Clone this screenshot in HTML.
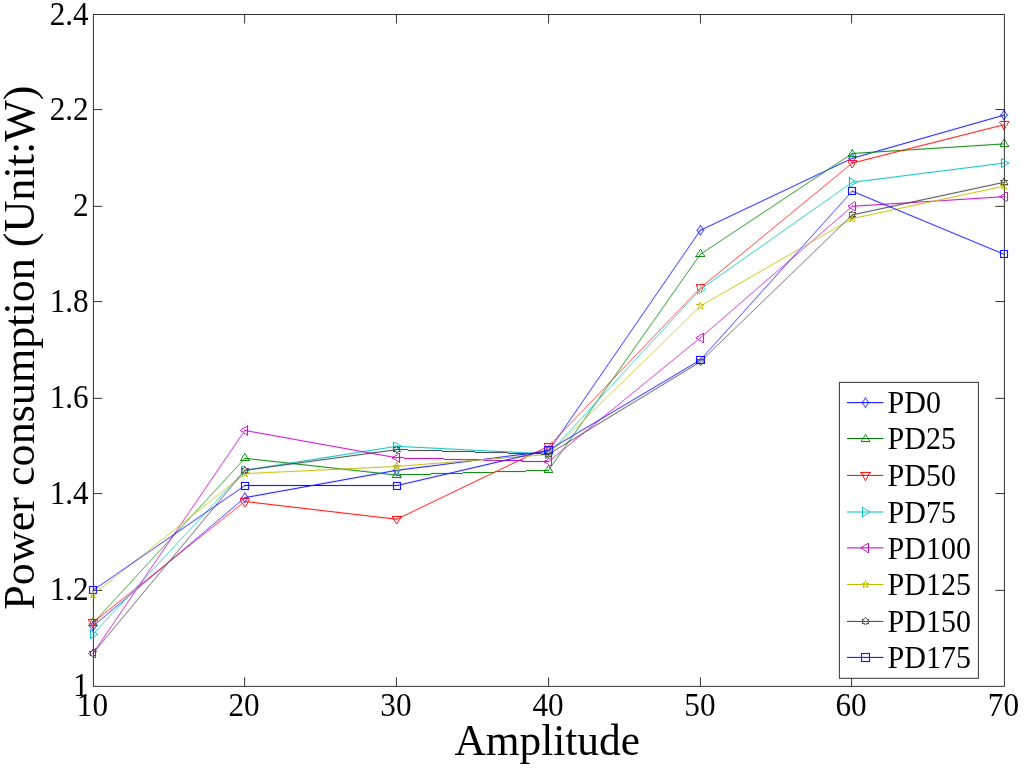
<!DOCTYPE html>
<html><head><meta charset="utf-8"><title>Power consumption vs Amplitude</title>
<style>
html,body{margin:0;padding:0;background:#fff;}
body{width:1024px;height:768px;overflow:hidden;}
svg{display:block;}
text{font-family:"Liberation Serif","Times New Roman",serif;fill:#000;}
.tk{font-size:31.2px;}
.lg{font-size:30px;}
.lb{font-size:43.4px;}
</style></head><body>
<svg width="1024" height="768" viewBox="0 0 1024 768">
<rect x="0" y="0" width="1024" height="768" fill="#fff"/>
<defs><filter id="b" x="0" y="0" width="1024" height="768" filterUnits="userSpaceOnUse"><feConvolveMatrix order="3" kernelMatrix="0.01 0.05 0.01 0.05 0.80 0.05 0.01 0.05 0.01" divisor="1" edgeMode="none" preserveAlpha="false"/></filter></defs>
<rect x="93.40" y="14.50" width="911.00" height="671.86" fill="none" stroke="#000" stroke-opacity="0.8" stroke-width="1"/>
<text class="tk" transform="translate(92.45,716.0) scale(1,1.06)" text-anchor="middle">10</text>
<line x1="244.64" y1="686.36" x2="244.64" y2="677.36" stroke="#000" stroke-opacity="0.8"/>
<line x1="244.64" y1="14.50" x2="244.64" y2="23.50" stroke="#000" stroke-opacity="0.8"/>
<text class="tk" transform="translate(244.09,716.0) scale(1,1.06)" text-anchor="middle">20</text>
<line x1="396.43" y1="686.36" x2="396.43" y2="677.36" stroke="#000" stroke-opacity="0.8"/>
<line x1="396.43" y1="14.50" x2="396.43" y2="23.50" stroke="#000" stroke-opacity="0.8"/>
<text class="tk" transform="translate(395.88,716.0) scale(1,1.06)" text-anchor="middle">30</text>
<line x1="548.58" y1="686.36" x2="548.58" y2="677.36" stroke="#000" stroke-opacity="0.8"/>
<line x1="548.58" y1="14.50" x2="548.58" y2="23.50" stroke="#000" stroke-opacity="0.8"/>
<text class="tk" transform="translate(548.03,716.0) scale(1,1.06)" text-anchor="middle">40</text>
<line x1="700.43" y1="686.36" x2="700.43" y2="677.36" stroke="#000" stroke-opacity="0.8"/>
<line x1="700.43" y1="14.50" x2="700.43" y2="23.50" stroke="#000" stroke-opacity="0.8"/>
<text class="tk" transform="translate(699.88,716.0) scale(1,1.06)" text-anchor="middle">50</text>
<line x1="851.60" y1="686.36" x2="851.60" y2="677.36" stroke="#000" stroke-opacity="0.8"/>
<line x1="851.60" y1="14.50" x2="851.60" y2="23.50" stroke="#000" stroke-opacity="0.8"/>
<text class="tk" transform="translate(851.05,716.0) scale(1,1.06)" text-anchor="middle">60</text>
<text class="tk" transform="translate(1003.45,716.0) scale(1,1.06)" text-anchor="middle">70</text>
<text class="tk" transform="translate(88.7,696.46) scale(1,1.06)" text-anchor="end">1</text>
<line x1="93.40" y1="590.36" x2="102.40" y2="590.36" stroke="#000" stroke-opacity="0.8"/>
<line x1="1004.40" y1="590.36" x2="995.40" y2="590.36" stroke="#000" stroke-opacity="0.8"/>
<text class="tk" transform="translate(88.7,600.46) scale(1,1.06)" text-anchor="end">1.2</text>
<line x1="93.40" y1="493.58" x2="102.40" y2="493.58" stroke="#000" stroke-opacity="0.8"/>
<line x1="1004.40" y1="493.58" x2="995.40" y2="493.58" stroke="#000" stroke-opacity="0.8"/>
<text class="tk" transform="translate(88.7,503.68) scale(1,1.06)" text-anchor="end">1.4</text>
<line x1="93.40" y1="398.36" x2="102.40" y2="398.36" stroke="#000" stroke-opacity="0.8"/>
<line x1="1004.40" y1="398.36" x2="995.40" y2="398.36" stroke="#000" stroke-opacity="0.8"/>
<text class="tk" transform="translate(88.7,408.46) scale(1,1.06)" text-anchor="end">1.6</text>
<line x1="93.40" y1="301.58" x2="102.40" y2="301.58" stroke="#000" stroke-opacity="0.8"/>
<line x1="1004.40" y1="301.58" x2="995.40" y2="301.58" stroke="#000" stroke-opacity="0.8"/>
<text class="tk" transform="translate(88.7,311.68) scale(1,1.06)" text-anchor="end">1.8</text>
<line x1="93.40" y1="206.36" x2="102.40" y2="206.36" stroke="#000" stroke-opacity="0.8"/>
<line x1="1004.40" y1="206.36" x2="995.40" y2="206.36" stroke="#000" stroke-opacity="0.8"/>
<text class="tk" transform="translate(88.7,216.46) scale(1,1.06)" text-anchor="end">2</text>
<line x1="93.40" y1="109.58" x2="102.40" y2="109.58" stroke="#000" stroke-opacity="0.8"/>
<line x1="1004.40" y1="109.58" x2="995.40" y2="109.58" stroke="#000" stroke-opacity="0.8"/>
<text class="tk" transform="translate(88.7,119.68) scale(1,1.06)" text-anchor="end">2.2</text>
<text class="tk" transform="translate(88.7,24.60) scale(1,1.06)" text-anchor="end">2.4</text>
<text class="lb" x="547.2" y="755" text-anchor="middle">Amplitude</text>
<text class="lb" style="font-size:44.1px" transform="translate(34.0,347.6) rotate(-90)" text-anchor="middle">Power consumption (Unit:W)</text>
<g filter="url(#b)">
<line x1="93.00" y1="626.30" x2="244.85" y2="497.66" stroke="#0000ff" stroke-width="0.763" stroke-linecap="square" shape-rendering="crispEdges"/>
<line x1="244.85" y1="497.66" x2="396.70" y2="470.30" stroke="#0000ff" stroke-width="0.984" stroke-linecap="square" shape-rendering="crispEdges"/>
<line x1="396.70" y1="470.30" x2="548.55" y2="451.10" stroke="#0000ff" stroke-width="0.992" stroke-linecap="square" shape-rendering="crispEdges"/>
<line x1="548.55" y1="451.10" x2="700.40" y2="230.30" stroke="#0000ff" stroke-width="0.824" stroke-linecap="square" shape-rendering="crispEdges"/>
<line x1="700.40" y1="230.30" x2="852.25" y2="158.30" stroke="#0000ff" stroke-width="0.904" stroke-linecap="square" shape-rendering="crispEdges"/>
<line x1="852.25" y1="158.30" x2="1004.10" y2="115.10" stroke="#0000ff" stroke-width="0.962" stroke-linecap="square" shape-rendering="crispEdges"/>
<line x1="93.00" y1="621.60" x2="96.20" y2="626.30" stroke="#0000ff" stroke-width="0.827" stroke-linecap="square" shape-rendering="crispEdges"/><line x1="96.20" y1="626.30" x2="93.00" y2="631.00" stroke="#0000ff" stroke-width="0.827" stroke-linecap="square" shape-rendering="crispEdges"/><line x1="93.00" y1="631.00" x2="89.80" y2="626.30" stroke="#0000ff" stroke-width="0.827" stroke-linecap="square" shape-rendering="crispEdges"/><line x1="89.80" y1="626.30" x2="93.00" y2="621.60" stroke="#0000ff" stroke-width="0.827" stroke-linecap="square" shape-rendering="crispEdges"/>
<line x1="244.85" y1="492.96" x2="248.05" y2="497.66" stroke="#0000ff" stroke-width="0.827" stroke-linecap="square" shape-rendering="crispEdges"/><line x1="248.05" y1="497.66" x2="244.85" y2="502.36" stroke="#0000ff" stroke-width="0.827" stroke-linecap="square" shape-rendering="crispEdges"/><line x1="244.85" y1="502.36" x2="241.65" y2="497.66" stroke="#0000ff" stroke-width="0.827" stroke-linecap="square" shape-rendering="crispEdges"/><line x1="241.65" y1="497.66" x2="244.85" y2="492.96" stroke="#0000ff" stroke-width="0.827" stroke-linecap="square" shape-rendering="crispEdges"/>
<line x1="396.70" y1="465.60" x2="399.90" y2="470.30" stroke="#0000ff" stroke-width="0.827" stroke-linecap="square" shape-rendering="crispEdges"/><line x1="399.90" y1="470.30" x2="396.70" y2="475.00" stroke="#0000ff" stroke-width="0.827" stroke-linecap="square" shape-rendering="crispEdges"/><line x1="396.70" y1="475.00" x2="393.50" y2="470.30" stroke="#0000ff" stroke-width="0.827" stroke-linecap="square" shape-rendering="crispEdges"/><line x1="393.50" y1="470.30" x2="396.70" y2="465.60" stroke="#0000ff" stroke-width="0.827" stroke-linecap="square" shape-rendering="crispEdges"/>
<line x1="548.55" y1="446.40" x2="551.75" y2="451.10" stroke="#0000ff" stroke-width="0.827" stroke-linecap="square" shape-rendering="crispEdges"/><line x1="551.75" y1="451.10" x2="548.55" y2="455.80" stroke="#0000ff" stroke-width="0.827" stroke-linecap="square" shape-rendering="crispEdges"/><line x1="548.55" y1="455.80" x2="545.35" y2="451.10" stroke="#0000ff" stroke-width="0.827" stroke-linecap="square" shape-rendering="crispEdges"/><line x1="545.35" y1="451.10" x2="548.55" y2="446.40" stroke="#0000ff" stroke-width="0.827" stroke-linecap="square" shape-rendering="crispEdges"/>
<line x1="700.40" y1="225.60" x2="703.60" y2="230.30" stroke="#0000ff" stroke-width="0.827" stroke-linecap="square" shape-rendering="crispEdges"/><line x1="703.60" y1="230.30" x2="700.40" y2="235.00" stroke="#0000ff" stroke-width="0.827" stroke-linecap="square" shape-rendering="crispEdges"/><line x1="700.40" y1="235.00" x2="697.20" y2="230.30" stroke="#0000ff" stroke-width="0.827" stroke-linecap="square" shape-rendering="crispEdges"/><line x1="697.20" y1="230.30" x2="700.40" y2="225.60" stroke="#0000ff" stroke-width="0.827" stroke-linecap="square" shape-rendering="crispEdges"/>
<line x1="852.25" y1="153.60" x2="855.45" y2="158.30" stroke="#0000ff" stroke-width="0.827" stroke-linecap="square" shape-rendering="crispEdges"/><line x1="855.45" y1="158.30" x2="852.25" y2="163.00" stroke="#0000ff" stroke-width="0.827" stroke-linecap="square" shape-rendering="crispEdges"/><line x1="852.25" y1="163.00" x2="849.05" y2="158.30" stroke="#0000ff" stroke-width="0.827" stroke-linecap="square" shape-rendering="crispEdges"/><line x1="849.05" y1="158.30" x2="852.25" y2="153.60" stroke="#0000ff" stroke-width="0.827" stroke-linecap="square" shape-rendering="crispEdges"/>
<line x1="1004.10" y1="110.40" x2="1007.30" y2="115.10" stroke="#0000ff" stroke-width="0.827" stroke-linecap="square" shape-rendering="crispEdges"/><line x1="1007.30" y1="115.10" x2="1004.10" y2="119.80" stroke="#0000ff" stroke-width="0.827" stroke-linecap="square" shape-rendering="crispEdges"/><line x1="1004.10" y1="119.80" x2="1000.90" y2="115.10" stroke="#0000ff" stroke-width="0.827" stroke-linecap="square" shape-rendering="crispEdges"/><line x1="1000.90" y1="115.10" x2="1004.10" y2="110.40" stroke="#0000ff" stroke-width="0.827" stroke-linecap="square" shape-rendering="crispEdges"/>
<line x1="93.00" y1="623.18" x2="244.85" y2="458.30" stroke="#008000" stroke-width="0.736" stroke-linecap="square" shape-rendering="crispEdges"/>
<line x1="244.85" y1="458.30" x2="396.70" y2="475.10" stroke="#008000" stroke-width="0.994" stroke-linecap="square" shape-rendering="crispEdges"/>
<line x1="396.70" y1="475.10" x2="548.55" y2="470.30" stroke="#008000" stroke-width="1.000" stroke-linecap="square" shape-rendering="crispEdges"/>
<line x1="548.55" y1="470.30" x2="700.40" y2="254.30" stroke="#008000" stroke-width="0.818" stroke-linecap="square" shape-rendering="crispEdges"/>
<line x1="700.40" y1="254.30" x2="852.25" y2="153.50" stroke="#008000" stroke-width="0.833" stroke-linecap="square" shape-rendering="crispEdges"/>
<line x1="852.25" y1="153.50" x2="1004.10" y2="143.90" stroke="#008000" stroke-width="0.998" stroke-linecap="square" shape-rendering="crispEdges"/>
<line x1="93.00" y1="618.18" x2="97.60" y2="625.68" stroke="#008000" stroke-width="0.852" stroke-linecap="butt" shape-rendering="crispEdges"/><line x1="97.60" y1="625.68" x2="88.40" y2="625.68" stroke="#008000" stroke-width="1.000" stroke-linecap="butt" shape-rendering="crispEdges"/><line x1="88.40" y1="625.68" x2="93.00" y2="618.18" stroke="#008000" stroke-width="0.852" stroke-linecap="butt" shape-rendering="crispEdges"/>
<line x1="244.85" y1="453.30" x2="249.45" y2="460.80" stroke="#008000" stroke-width="0.852" stroke-linecap="butt" shape-rendering="crispEdges"/><line x1="249.45" y1="460.80" x2="240.25" y2="460.80" stroke="#008000" stroke-width="1.000" stroke-linecap="butt" shape-rendering="crispEdges"/><line x1="240.25" y1="460.80" x2="244.85" y2="453.30" stroke="#008000" stroke-width="0.852" stroke-linecap="butt" shape-rendering="crispEdges"/>
<line x1="396.70" y1="470.10" x2="401.30" y2="477.60" stroke="#008000" stroke-width="0.852" stroke-linecap="butt" shape-rendering="crispEdges"/><line x1="401.30" y1="477.60" x2="392.10" y2="477.60" stroke="#008000" stroke-width="1.000" stroke-linecap="butt" shape-rendering="crispEdges"/><line x1="392.10" y1="477.60" x2="396.70" y2="470.10" stroke="#008000" stroke-width="0.852" stroke-linecap="butt" shape-rendering="crispEdges"/>
<line x1="548.55" y1="465.30" x2="553.15" y2="472.80" stroke="#008000" stroke-width="0.852" stroke-linecap="butt" shape-rendering="crispEdges"/><line x1="553.15" y1="472.80" x2="543.95" y2="472.80" stroke="#008000" stroke-width="1.000" stroke-linecap="butt" shape-rendering="crispEdges"/><line x1="543.95" y1="472.80" x2="548.55" y2="465.30" stroke="#008000" stroke-width="0.852" stroke-linecap="butt" shape-rendering="crispEdges"/>
<line x1="700.40" y1="249.30" x2="705.00" y2="256.80" stroke="#008000" stroke-width="0.852" stroke-linecap="butt" shape-rendering="crispEdges"/><line x1="705.00" y1="256.80" x2="695.80" y2="256.80" stroke="#008000" stroke-width="1.000" stroke-linecap="butt" shape-rendering="crispEdges"/><line x1="695.80" y1="256.80" x2="700.40" y2="249.30" stroke="#008000" stroke-width="0.852" stroke-linecap="butt" shape-rendering="crispEdges"/>
<line x1="852.25" y1="148.50" x2="856.85" y2="156.00" stroke="#008000" stroke-width="0.852" stroke-linecap="butt" shape-rendering="crispEdges"/><line x1="856.85" y1="156.00" x2="847.65" y2="156.00" stroke="#008000" stroke-width="1.000" stroke-linecap="butt" shape-rendering="crispEdges"/><line x1="847.65" y1="156.00" x2="852.25" y2="148.50" stroke="#008000" stroke-width="0.852" stroke-linecap="butt" shape-rendering="crispEdges"/>
<line x1="1004.10" y1="138.90" x2="1008.70" y2="146.40" stroke="#008000" stroke-width="0.852" stroke-linecap="butt" shape-rendering="crispEdges"/><line x1="1008.70" y1="146.40" x2="999.50" y2="146.40" stroke="#008000" stroke-width="1.000" stroke-linecap="butt" shape-rendering="crispEdges"/><line x1="999.50" y1="146.40" x2="1004.10" y2="138.90" stroke="#008000" stroke-width="0.852" stroke-linecap="butt" shape-rendering="crispEdges"/>
<line x1="93.00" y1="622.46" x2="244.85" y2="501.50" stroke="#ff0000" stroke-width="0.782" stroke-linecap="square" shape-rendering="crispEdges"/>
<line x1="244.85" y1="501.50" x2="396.70" y2="519.26" stroke="#ff0000" stroke-width="0.993" stroke-linecap="square" shape-rendering="crispEdges"/>
<line x1="396.70" y1="519.26" x2="548.55" y2="446.30" stroke="#ff0000" stroke-width="0.901" stroke-linecap="square" shape-rendering="crispEdges"/>
<line x1="548.55" y1="446.30" x2="700.40" y2="287.90" stroke="#ff0000" stroke-width="0.722" stroke-linecap="square" shape-rendering="crispEdges"/>
<line x1="700.40" y1="287.90" x2="852.25" y2="163.10" stroke="#ff0000" stroke-width="0.773" stroke-linecap="square" shape-rendering="crispEdges"/>
<line x1="852.25" y1="163.10" x2="1004.10" y2="124.70" stroke="#ff0000" stroke-width="0.969" stroke-linecap="square" shape-rendering="crispEdges"/>
<line x1="93.00" y1="627.66" x2="97.60" y2="619.46" stroke="#ff0000" stroke-width="0.872" stroke-linecap="butt" shape-rendering="crispEdges"/><line x1="97.60" y1="619.46" x2="88.40" y2="619.46" stroke="#ff0000" stroke-width="1.000" stroke-linecap="butt" shape-rendering="crispEdges"/><line x1="88.40" y1="619.46" x2="93.00" y2="627.66" stroke="#ff0000" stroke-width="0.872" stroke-linecap="butt" shape-rendering="crispEdges"/>
<line x1="244.85" y1="506.70" x2="249.45" y2="498.50" stroke="#ff0000" stroke-width="0.872" stroke-linecap="butt" shape-rendering="crispEdges"/><line x1="249.45" y1="498.50" x2="240.25" y2="498.50" stroke="#ff0000" stroke-width="1.000" stroke-linecap="butt" shape-rendering="crispEdges"/><line x1="240.25" y1="498.50" x2="244.85" y2="506.70" stroke="#ff0000" stroke-width="0.872" stroke-linecap="butt" shape-rendering="crispEdges"/>
<line x1="396.70" y1="524.46" x2="401.30" y2="516.26" stroke="#ff0000" stroke-width="0.872" stroke-linecap="butt" shape-rendering="crispEdges"/><line x1="401.30" y1="516.26" x2="392.10" y2="516.26" stroke="#ff0000" stroke-width="1.000" stroke-linecap="butt" shape-rendering="crispEdges"/><line x1="392.10" y1="516.26" x2="396.70" y2="524.46" stroke="#ff0000" stroke-width="0.872" stroke-linecap="butt" shape-rendering="crispEdges"/>
<line x1="548.55" y1="451.50" x2="553.15" y2="443.30" stroke="#ff0000" stroke-width="0.872" stroke-linecap="butt" shape-rendering="crispEdges"/><line x1="553.15" y1="443.30" x2="543.95" y2="443.30" stroke="#ff0000" stroke-width="1.000" stroke-linecap="butt" shape-rendering="crispEdges"/><line x1="543.95" y1="443.30" x2="548.55" y2="451.50" stroke="#ff0000" stroke-width="0.872" stroke-linecap="butt" shape-rendering="crispEdges"/>
<line x1="700.40" y1="293.10" x2="705.00" y2="284.90" stroke="#ff0000" stroke-width="0.872" stroke-linecap="butt" shape-rendering="crispEdges"/><line x1="705.00" y1="284.90" x2="695.80" y2="284.90" stroke="#ff0000" stroke-width="1.000" stroke-linecap="butt" shape-rendering="crispEdges"/><line x1="695.80" y1="284.90" x2="700.40" y2="293.10" stroke="#ff0000" stroke-width="0.872" stroke-linecap="butt" shape-rendering="crispEdges"/>
<line x1="852.25" y1="168.30" x2="856.85" y2="160.10" stroke="#ff0000" stroke-width="0.872" stroke-linecap="butt" shape-rendering="crispEdges"/><line x1="856.85" y1="160.10" x2="847.65" y2="160.10" stroke="#ff0000" stroke-width="1.000" stroke-linecap="butt" shape-rendering="crispEdges"/><line x1="847.65" y1="160.10" x2="852.25" y2="168.30" stroke="#ff0000" stroke-width="0.872" stroke-linecap="butt" shape-rendering="crispEdges"/>
<line x1="1004.10" y1="129.90" x2="1008.70" y2="121.70" stroke="#ff0000" stroke-width="0.872" stroke-linecap="butt" shape-rendering="crispEdges"/><line x1="1008.70" y1="121.70" x2="999.50" y2="121.70" stroke="#ff0000" stroke-width="1.000" stroke-linecap="butt" shape-rendering="crispEdges"/><line x1="999.50" y1="121.70" x2="1004.10" y2="129.90" stroke="#ff0000" stroke-width="0.872" stroke-linecap="butt" shape-rendering="crispEdges"/>
<line x1="93.00" y1="634.22" x2="244.85" y2="470.30" stroke="#00bfbf" stroke-width="0.734" stroke-linecap="square" shape-rendering="crispEdges"/>
<line x1="244.85" y1="470.30" x2="396.70" y2="446.30" stroke="#00bfbf" stroke-width="0.988" stroke-linecap="square" shape-rendering="crispEdges"/>
<line x1="396.70" y1="446.30" x2="548.55" y2="453.98" stroke="#00bfbf" stroke-width="0.999" stroke-linecap="square" shape-rendering="crispEdges"/>
<line x1="548.55" y1="453.98" x2="700.40" y2="289.34" stroke="#00bfbf" stroke-width="0.735" stroke-linecap="square" shape-rendering="crispEdges"/>
<line x1="700.40" y1="289.34" x2="852.25" y2="182.30" stroke="#00bfbf" stroke-width="0.817" stroke-linecap="square" shape-rendering="crispEdges"/>
<line x1="852.25" y1="182.30" x2="1004.10" y2="163.10" stroke="#00bfbf" stroke-width="0.992" stroke-linecap="square" shape-rendering="crispEdges"/>
<line x1="97.70" y1="634.22" x2="90.10" y2="629.62" stroke="#00bfbf" stroke-width="0.856" stroke-linecap="butt" shape-rendering="crispEdges"/><line x1="90.10" y1="629.62" x2="90.10" y2="638.82" stroke="#00bfbf" stroke-width="1.000" stroke-linecap="butt" shape-rendering="crispEdges"/><line x1="90.10" y1="638.82" x2="97.70" y2="634.22" stroke="#00bfbf" stroke-width="0.856" stroke-linecap="butt" shape-rendering="crispEdges"/>
<line x1="249.55" y1="470.30" x2="241.95" y2="465.70" stroke="#00bfbf" stroke-width="0.856" stroke-linecap="butt" shape-rendering="crispEdges"/><line x1="241.95" y1="465.70" x2="241.95" y2="474.90" stroke="#00bfbf" stroke-width="1.000" stroke-linecap="butt" shape-rendering="crispEdges"/><line x1="241.95" y1="474.90" x2="249.55" y2="470.30" stroke="#00bfbf" stroke-width="0.856" stroke-linecap="butt" shape-rendering="crispEdges"/>
<line x1="401.40" y1="446.30" x2="393.80" y2="441.70" stroke="#00bfbf" stroke-width="0.856" stroke-linecap="butt" shape-rendering="crispEdges"/><line x1="393.80" y1="441.70" x2="393.80" y2="450.90" stroke="#00bfbf" stroke-width="1.000" stroke-linecap="butt" shape-rendering="crispEdges"/><line x1="393.80" y1="450.90" x2="401.40" y2="446.30" stroke="#00bfbf" stroke-width="0.856" stroke-linecap="butt" shape-rendering="crispEdges"/>
<line x1="553.25" y1="453.98" x2="545.65" y2="449.38" stroke="#00bfbf" stroke-width="0.856" stroke-linecap="butt" shape-rendering="crispEdges"/><line x1="545.65" y1="449.38" x2="545.65" y2="458.58" stroke="#00bfbf" stroke-width="1.000" stroke-linecap="butt" shape-rendering="crispEdges"/><line x1="545.65" y1="458.58" x2="553.25" y2="453.98" stroke="#00bfbf" stroke-width="0.856" stroke-linecap="butt" shape-rendering="crispEdges"/>
<line x1="705.10" y1="289.34" x2="697.50" y2="284.74" stroke="#00bfbf" stroke-width="0.856" stroke-linecap="butt" shape-rendering="crispEdges"/><line x1="697.50" y1="284.74" x2="697.50" y2="293.94" stroke="#00bfbf" stroke-width="1.000" stroke-linecap="butt" shape-rendering="crispEdges"/><line x1="697.50" y1="293.94" x2="705.10" y2="289.34" stroke="#00bfbf" stroke-width="0.856" stroke-linecap="butt" shape-rendering="crispEdges"/>
<line x1="856.95" y1="182.30" x2="849.35" y2="177.70" stroke="#00bfbf" stroke-width="0.856" stroke-linecap="butt" shape-rendering="crispEdges"/><line x1="849.35" y1="177.70" x2="849.35" y2="186.90" stroke="#00bfbf" stroke-width="1.000" stroke-linecap="butt" shape-rendering="crispEdges"/><line x1="849.35" y1="186.90" x2="856.95" y2="182.30" stroke="#00bfbf" stroke-width="0.856" stroke-linecap="butt" shape-rendering="crispEdges"/>
<line x1="1008.80" y1="163.10" x2="1001.20" y2="158.50" stroke="#00bfbf" stroke-width="0.856" stroke-linecap="butt" shape-rendering="crispEdges"/><line x1="1001.20" y1="158.50" x2="1001.20" y2="167.70" stroke="#00bfbf" stroke-width="1.000" stroke-linecap="butt" shape-rendering="crispEdges"/><line x1="1001.20" y1="167.70" x2="1008.80" y2="163.10" stroke="#00bfbf" stroke-width="0.856" stroke-linecap="butt" shape-rendering="crispEdges"/>
<line x1="93.00" y1="653.42" x2="244.85" y2="430.46" stroke="#bf00bf" stroke-width="0.827" stroke-linecap="square" shape-rendering="crispEdges"/>
<line x1="244.85" y1="430.46" x2="396.70" y2="457.82" stroke="#bf00bf" stroke-width="0.984" stroke-linecap="square" shape-rendering="crispEdges"/>
<line x1="396.70" y1="457.82" x2="548.55" y2="461.66" stroke="#bf00bf" stroke-width="1.000" stroke-linecap="square" shape-rendering="crispEdges"/>
<line x1="548.55" y1="461.66" x2="700.40" y2="337.82" stroke="#bf00bf" stroke-width="0.775" stroke-linecap="square" shape-rendering="crispEdges"/>
<line x1="700.40" y1="337.82" x2="852.25" y2="206.30" stroke="#bf00bf" stroke-width="0.756" stroke-linecap="square" shape-rendering="crispEdges"/>
<line x1="852.25" y1="206.30" x2="1004.10" y2="196.70" stroke="#bf00bf" stroke-width="0.998" stroke-linecap="square" shape-rendering="crispEdges"/>
<line x1="88.30" y1="653.42" x2="95.90" y2="648.72" stroke="#bf00bf" stroke-width="0.851" stroke-linecap="butt" shape-rendering="crispEdges"/><line x1="95.90" y1="648.72" x2="95.90" y2="658.12" stroke="#bf00bf" stroke-width="1.000" stroke-linecap="butt" shape-rendering="crispEdges"/><line x1="95.90" y1="658.12" x2="88.30" y2="653.42" stroke="#bf00bf" stroke-width="0.851" stroke-linecap="butt" shape-rendering="crispEdges"/>
<line x1="240.15" y1="430.46" x2="247.75" y2="425.76" stroke="#bf00bf" stroke-width="0.851" stroke-linecap="butt" shape-rendering="crispEdges"/><line x1="247.75" y1="425.76" x2="247.75" y2="435.16" stroke="#bf00bf" stroke-width="1.000" stroke-linecap="butt" shape-rendering="crispEdges"/><line x1="247.75" y1="435.16" x2="240.15" y2="430.46" stroke="#bf00bf" stroke-width="0.851" stroke-linecap="butt" shape-rendering="crispEdges"/>
<line x1="392.00" y1="457.82" x2="399.60" y2="453.12" stroke="#bf00bf" stroke-width="0.851" stroke-linecap="butt" shape-rendering="crispEdges"/><line x1="399.60" y1="453.12" x2="399.60" y2="462.52" stroke="#bf00bf" stroke-width="1.000" stroke-linecap="butt" shape-rendering="crispEdges"/><line x1="399.60" y1="462.52" x2="392.00" y2="457.82" stroke="#bf00bf" stroke-width="0.851" stroke-linecap="butt" shape-rendering="crispEdges"/>
<line x1="543.85" y1="461.66" x2="551.45" y2="456.96" stroke="#bf00bf" stroke-width="0.851" stroke-linecap="butt" shape-rendering="crispEdges"/><line x1="551.45" y1="456.96" x2="551.45" y2="466.36" stroke="#bf00bf" stroke-width="1.000" stroke-linecap="butt" shape-rendering="crispEdges"/><line x1="551.45" y1="466.36" x2="543.85" y2="461.66" stroke="#bf00bf" stroke-width="0.851" stroke-linecap="butt" shape-rendering="crispEdges"/>
<line x1="695.70" y1="337.82" x2="703.30" y2="333.12" stroke="#bf00bf" stroke-width="0.851" stroke-linecap="butt" shape-rendering="crispEdges"/><line x1="703.30" y1="333.12" x2="703.30" y2="342.52" stroke="#bf00bf" stroke-width="1.000" stroke-linecap="butt" shape-rendering="crispEdges"/><line x1="703.30" y1="342.52" x2="695.70" y2="337.82" stroke="#bf00bf" stroke-width="0.851" stroke-linecap="butt" shape-rendering="crispEdges"/>
<line x1="847.55" y1="206.30" x2="855.15" y2="201.60" stroke="#bf00bf" stroke-width="0.851" stroke-linecap="butt" shape-rendering="crispEdges"/><line x1="855.15" y1="201.60" x2="855.15" y2="211.00" stroke="#bf00bf" stroke-width="1.000" stroke-linecap="butt" shape-rendering="crispEdges"/><line x1="855.15" y1="211.00" x2="847.55" y2="206.30" stroke="#bf00bf" stroke-width="0.851" stroke-linecap="butt" shape-rendering="crispEdges"/>
<line x1="999.40" y1="196.70" x2="1007.00" y2="192.00" stroke="#bf00bf" stroke-width="0.851" stroke-linecap="butt" shape-rendering="crispEdges"/><line x1="1007.00" y1="192.00" x2="1007.00" y2="201.40" stroke="#bf00bf" stroke-width="1.000" stroke-linecap="butt" shape-rendering="crispEdges"/><line x1="1007.00" y1="201.40" x2="999.40" y2="196.70" stroke="#bf00bf" stroke-width="0.851" stroke-linecap="butt" shape-rendering="crispEdges"/>
<line x1="93.00" y1="594.62" x2="244.85" y2="473.66" stroke="#bfbf00" stroke-width="0.782" stroke-linecap="square" shape-rendering="crispEdges"/>
<line x1="244.85" y1="473.66" x2="396.70" y2="466.46" stroke="#bfbf00" stroke-width="0.999" stroke-linecap="square" shape-rendering="crispEdges"/>
<line x1="396.70" y1="466.46" x2="548.55" y2="454.46" stroke="#bfbf00" stroke-width="0.997" stroke-linecap="square" shape-rendering="crispEdges"/>
<line x1="548.55" y1="454.46" x2="700.40" y2="306.14" stroke="#bfbf00" stroke-width="0.715" stroke-linecap="square" shape-rendering="crispEdges"/>
<line x1="700.40" y1="306.14" x2="852.25" y2="218.54" stroke="#bfbf00" stroke-width="0.866" stroke-linecap="square" shape-rendering="crispEdges"/>
<line x1="852.25" y1="218.54" x2="1004.10" y2="186.14" stroke="#bfbf00" stroke-width="0.978" stroke-linecap="square" shape-rendering="crispEdges"/>
<line x1="93.00" y1="590.52" x2="93.94" y2="593.33" stroke="#bfbf00" stroke-width="0.948" stroke-linecap="butt" shape-rendering="crispEdges"/><line x1="93.94" y1="593.33" x2="96.90" y2="593.35" stroke="#bfbf00" stroke-width="1.000" stroke-linecap="butt" shape-rendering="crispEdges"/><line x1="96.90" y1="593.35" x2="94.52" y2="595.11" stroke="#bfbf00" stroke-width="0.804" stroke-linecap="butt" shape-rendering="crispEdges"/><line x1="94.52" y1="595.11" x2="95.41" y2="597.94" stroke="#bfbf00" stroke-width="0.954" stroke-linecap="butt" shape-rendering="crispEdges"/><line x1="95.41" y1="597.94" x2="93.00" y2="596.22" stroke="#bfbf00" stroke-width="0.814" stroke-linecap="butt" shape-rendering="crispEdges"/><line x1="93.00" y1="596.22" x2="90.59" y2="597.94" stroke="#bfbf00" stroke-width="0.814" stroke-linecap="butt" shape-rendering="crispEdges"/><line x1="90.59" y1="597.94" x2="91.48" y2="595.11" stroke="#bfbf00" stroke-width="0.954" stroke-linecap="butt" shape-rendering="crispEdges"/><line x1="91.48" y1="595.11" x2="89.10" y2="593.35" stroke="#bfbf00" stroke-width="0.804" stroke-linecap="butt" shape-rendering="crispEdges"/><line x1="89.10" y1="593.35" x2="92.06" y2="593.33" stroke="#bfbf00" stroke-width="1.000" stroke-linecap="butt" shape-rendering="crispEdges"/><line x1="92.06" y1="593.33" x2="93.00" y2="590.52" stroke="#bfbf00" stroke-width="0.948" stroke-linecap="butt" shape-rendering="crispEdges"/>
<line x1="244.85" y1="469.56" x2="245.79" y2="472.37" stroke="#bfbf00" stroke-width="0.948" stroke-linecap="butt" shape-rendering="crispEdges"/><line x1="245.79" y1="472.37" x2="248.75" y2="472.39" stroke="#bfbf00" stroke-width="1.000" stroke-linecap="butt" shape-rendering="crispEdges"/><line x1="248.75" y1="472.39" x2="246.37" y2="474.15" stroke="#bfbf00" stroke-width="0.804" stroke-linecap="butt" shape-rendering="crispEdges"/><line x1="246.37" y1="474.15" x2="247.26" y2="476.98" stroke="#bfbf00" stroke-width="0.954" stroke-linecap="butt" shape-rendering="crispEdges"/><line x1="247.26" y1="476.98" x2="244.85" y2="475.26" stroke="#bfbf00" stroke-width="0.814" stroke-linecap="butt" shape-rendering="crispEdges"/><line x1="244.85" y1="475.26" x2="242.44" y2="476.98" stroke="#bfbf00" stroke-width="0.814" stroke-linecap="butt" shape-rendering="crispEdges"/><line x1="242.44" y1="476.98" x2="243.33" y2="474.15" stroke="#bfbf00" stroke-width="0.954" stroke-linecap="butt" shape-rendering="crispEdges"/><line x1="243.33" y1="474.15" x2="240.95" y2="472.39" stroke="#bfbf00" stroke-width="0.804" stroke-linecap="butt" shape-rendering="crispEdges"/><line x1="240.95" y1="472.39" x2="243.91" y2="472.37" stroke="#bfbf00" stroke-width="1.000" stroke-linecap="butt" shape-rendering="crispEdges"/><line x1="243.91" y1="472.37" x2="244.85" y2="469.56" stroke="#bfbf00" stroke-width="0.948" stroke-linecap="butt" shape-rendering="crispEdges"/>
<line x1="396.70" y1="462.36" x2="397.64" y2="465.17" stroke="#bfbf00" stroke-width="0.948" stroke-linecap="butt" shape-rendering="crispEdges"/><line x1="397.64" y1="465.17" x2="400.60" y2="465.19" stroke="#bfbf00" stroke-width="1.000" stroke-linecap="butt" shape-rendering="crispEdges"/><line x1="400.60" y1="465.19" x2="398.22" y2="466.95" stroke="#bfbf00" stroke-width="0.804" stroke-linecap="butt" shape-rendering="crispEdges"/><line x1="398.22" y1="466.95" x2="399.11" y2="469.78" stroke="#bfbf00" stroke-width="0.954" stroke-linecap="butt" shape-rendering="crispEdges"/><line x1="399.11" y1="469.78" x2="396.70" y2="468.06" stroke="#bfbf00" stroke-width="0.814" stroke-linecap="butt" shape-rendering="crispEdges"/><line x1="396.70" y1="468.06" x2="394.29" y2="469.78" stroke="#bfbf00" stroke-width="0.814" stroke-linecap="butt" shape-rendering="crispEdges"/><line x1="394.29" y1="469.78" x2="395.18" y2="466.95" stroke="#bfbf00" stroke-width="0.954" stroke-linecap="butt" shape-rendering="crispEdges"/><line x1="395.18" y1="466.95" x2="392.80" y2="465.19" stroke="#bfbf00" stroke-width="0.804" stroke-linecap="butt" shape-rendering="crispEdges"/><line x1="392.80" y1="465.19" x2="395.76" y2="465.17" stroke="#bfbf00" stroke-width="1.000" stroke-linecap="butt" shape-rendering="crispEdges"/><line x1="395.76" y1="465.17" x2="396.70" y2="462.36" stroke="#bfbf00" stroke-width="0.948" stroke-linecap="butt" shape-rendering="crispEdges"/>
<line x1="548.55" y1="450.36" x2="549.49" y2="453.17" stroke="#bfbf00" stroke-width="0.948" stroke-linecap="butt" shape-rendering="crispEdges"/><line x1="549.49" y1="453.17" x2="552.45" y2="453.19" stroke="#bfbf00" stroke-width="1.000" stroke-linecap="butt" shape-rendering="crispEdges"/><line x1="552.45" y1="453.19" x2="550.07" y2="454.95" stroke="#bfbf00" stroke-width="0.804" stroke-linecap="butt" shape-rendering="crispEdges"/><line x1="550.07" y1="454.95" x2="550.96" y2="457.78" stroke="#bfbf00" stroke-width="0.954" stroke-linecap="butt" shape-rendering="crispEdges"/><line x1="550.96" y1="457.78" x2="548.55" y2="456.06" stroke="#bfbf00" stroke-width="0.814" stroke-linecap="butt" shape-rendering="crispEdges"/><line x1="548.55" y1="456.06" x2="546.14" y2="457.78" stroke="#bfbf00" stroke-width="0.814" stroke-linecap="butt" shape-rendering="crispEdges"/><line x1="546.14" y1="457.78" x2="547.03" y2="454.95" stroke="#bfbf00" stroke-width="0.954" stroke-linecap="butt" shape-rendering="crispEdges"/><line x1="547.03" y1="454.95" x2="544.65" y2="453.19" stroke="#bfbf00" stroke-width="0.804" stroke-linecap="butt" shape-rendering="crispEdges"/><line x1="544.65" y1="453.19" x2="547.61" y2="453.17" stroke="#bfbf00" stroke-width="1.000" stroke-linecap="butt" shape-rendering="crispEdges"/><line x1="547.61" y1="453.17" x2="548.55" y2="450.36" stroke="#bfbf00" stroke-width="0.948" stroke-linecap="butt" shape-rendering="crispEdges"/>
<line x1="700.40" y1="302.04" x2="701.34" y2="304.85" stroke="#bfbf00" stroke-width="0.948" stroke-linecap="butt" shape-rendering="crispEdges"/><line x1="701.34" y1="304.85" x2="704.30" y2="304.87" stroke="#bfbf00" stroke-width="1.000" stroke-linecap="butt" shape-rendering="crispEdges"/><line x1="704.30" y1="304.87" x2="701.92" y2="306.63" stroke="#bfbf00" stroke-width="0.804" stroke-linecap="butt" shape-rendering="crispEdges"/><line x1="701.92" y1="306.63" x2="702.81" y2="309.46" stroke="#bfbf00" stroke-width="0.954" stroke-linecap="butt" shape-rendering="crispEdges"/><line x1="702.81" y1="309.46" x2="700.40" y2="307.74" stroke="#bfbf00" stroke-width="0.814" stroke-linecap="butt" shape-rendering="crispEdges"/><line x1="700.40" y1="307.74" x2="697.99" y2="309.46" stroke="#bfbf00" stroke-width="0.814" stroke-linecap="butt" shape-rendering="crispEdges"/><line x1="697.99" y1="309.46" x2="698.88" y2="306.63" stroke="#bfbf00" stroke-width="0.954" stroke-linecap="butt" shape-rendering="crispEdges"/><line x1="698.88" y1="306.63" x2="696.50" y2="304.87" stroke="#bfbf00" stroke-width="0.804" stroke-linecap="butt" shape-rendering="crispEdges"/><line x1="696.50" y1="304.87" x2="699.46" y2="304.85" stroke="#bfbf00" stroke-width="1.000" stroke-linecap="butt" shape-rendering="crispEdges"/><line x1="699.46" y1="304.85" x2="700.40" y2="302.04" stroke="#bfbf00" stroke-width="0.948" stroke-linecap="butt" shape-rendering="crispEdges"/>
<line x1="852.25" y1="214.44" x2="853.19" y2="217.25" stroke="#bfbf00" stroke-width="0.948" stroke-linecap="butt" shape-rendering="crispEdges"/><line x1="853.19" y1="217.25" x2="856.15" y2="217.27" stroke="#bfbf00" stroke-width="1.000" stroke-linecap="butt" shape-rendering="crispEdges"/><line x1="856.15" y1="217.27" x2="853.77" y2="219.03" stroke="#bfbf00" stroke-width="0.804" stroke-linecap="butt" shape-rendering="crispEdges"/><line x1="853.77" y1="219.03" x2="854.66" y2="221.86" stroke="#bfbf00" stroke-width="0.954" stroke-linecap="butt" shape-rendering="crispEdges"/><line x1="854.66" y1="221.86" x2="852.25" y2="220.14" stroke="#bfbf00" stroke-width="0.814" stroke-linecap="butt" shape-rendering="crispEdges"/><line x1="852.25" y1="220.14" x2="849.84" y2="221.86" stroke="#bfbf00" stroke-width="0.814" stroke-linecap="butt" shape-rendering="crispEdges"/><line x1="849.84" y1="221.86" x2="850.73" y2="219.03" stroke="#bfbf00" stroke-width="0.954" stroke-linecap="butt" shape-rendering="crispEdges"/><line x1="850.73" y1="219.03" x2="848.35" y2="217.27" stroke="#bfbf00" stroke-width="0.804" stroke-linecap="butt" shape-rendering="crispEdges"/><line x1="848.35" y1="217.27" x2="851.31" y2="217.25" stroke="#bfbf00" stroke-width="1.000" stroke-linecap="butt" shape-rendering="crispEdges"/><line x1="851.31" y1="217.25" x2="852.25" y2="214.44" stroke="#bfbf00" stroke-width="0.948" stroke-linecap="butt" shape-rendering="crispEdges"/>
<line x1="1004.10" y1="182.04" x2="1005.04" y2="184.85" stroke="#bfbf00" stroke-width="0.948" stroke-linecap="butt" shape-rendering="crispEdges"/><line x1="1005.04" y1="184.85" x2="1008.00" y2="184.87" stroke="#bfbf00" stroke-width="1.000" stroke-linecap="butt" shape-rendering="crispEdges"/><line x1="1008.00" y1="184.87" x2="1005.62" y2="186.63" stroke="#bfbf00" stroke-width="0.804" stroke-linecap="butt" shape-rendering="crispEdges"/><line x1="1005.62" y1="186.63" x2="1006.51" y2="189.46" stroke="#bfbf00" stroke-width="0.954" stroke-linecap="butt" shape-rendering="crispEdges"/><line x1="1006.51" y1="189.46" x2="1004.10" y2="187.74" stroke="#bfbf00" stroke-width="0.814" stroke-linecap="butt" shape-rendering="crispEdges"/><line x1="1004.10" y1="187.74" x2="1001.69" y2="189.46" stroke="#bfbf00" stroke-width="0.814" stroke-linecap="butt" shape-rendering="crispEdges"/><line x1="1001.69" y1="189.46" x2="1002.58" y2="186.63" stroke="#bfbf00" stroke-width="0.954" stroke-linecap="butt" shape-rendering="crispEdges"/><line x1="1002.58" y1="186.63" x2="1000.20" y2="184.87" stroke="#bfbf00" stroke-width="0.804" stroke-linecap="butt" shape-rendering="crispEdges"/><line x1="1000.20" y1="184.87" x2="1003.16" y2="184.85" stroke="#bfbf00" stroke-width="1.000" stroke-linecap="butt" shape-rendering="crispEdges"/><line x1="1003.16" y1="184.85" x2="1004.10" y2="182.04" stroke="#bfbf00" stroke-width="0.948" stroke-linecap="butt" shape-rendering="crispEdges"/>
<line x1="93.00" y1="653.42" x2="244.85" y2="470.30" stroke="#404040" stroke-width="0.770" stroke-linecap="square" shape-rendering="crispEdges"/>
<line x1="244.85" y1="470.30" x2="396.70" y2="449.66" stroke="#404040" stroke-width="0.991" stroke-linecap="square" shape-rendering="crispEdges"/>
<line x1="396.70" y1="449.66" x2="548.55" y2="454.22" stroke="#404040" stroke-width="1.000" stroke-linecap="square" shape-rendering="crispEdges"/>
<line x1="548.55" y1="454.22" x2="700.40" y2="361.82" stroke="#404040" stroke-width="0.854" stroke-linecap="square" shape-rendering="crispEdges"/>
<line x1="700.40" y1="361.82" x2="852.25" y2="214.94" stroke="#404040" stroke-width="0.719" stroke-linecap="square" shape-rendering="crispEdges"/>
<line x1="852.25" y1="214.94" x2="1004.10" y2="182.30" stroke="#404040" stroke-width="0.978" stroke-linecap="square" shape-rendering="crispEdges"/>
<line x1="93.00" y1="649.42" x2="94.15" y2="651.43" stroke="#404040" stroke-width="0.868" stroke-linecap="butt" shape-rendering="crispEdges"/><line x1="94.15" y1="651.43" x2="96.46" y2="651.42" stroke="#404040" stroke-width="1.000" stroke-linecap="butt" shape-rendering="crispEdges"/><line x1="96.46" y1="651.42" x2="95.30" y2="653.42" stroke="#404040" stroke-width="0.864" stroke-linecap="butt" shape-rendering="crispEdges"/><line x1="95.30" y1="653.42" x2="96.46" y2="655.42" stroke="#404040" stroke-width="0.864" stroke-linecap="butt" shape-rendering="crispEdges"/><line x1="96.46" y1="655.42" x2="94.15" y2="655.41" stroke="#404040" stroke-width="1.000" stroke-linecap="butt" shape-rendering="crispEdges"/><line x1="94.15" y1="655.41" x2="93.00" y2="657.42" stroke="#404040" stroke-width="0.868" stroke-linecap="butt" shape-rendering="crispEdges"/><line x1="93.00" y1="657.42" x2="91.85" y2="655.41" stroke="#404040" stroke-width="0.868" stroke-linecap="butt" shape-rendering="crispEdges"/><line x1="91.85" y1="655.41" x2="89.54" y2="655.42" stroke="#404040" stroke-width="1.000" stroke-linecap="butt" shape-rendering="crispEdges"/><line x1="89.54" y1="655.42" x2="90.70" y2="653.42" stroke="#404040" stroke-width="0.864" stroke-linecap="butt" shape-rendering="crispEdges"/><line x1="90.70" y1="653.42" x2="89.54" y2="651.42" stroke="#404040" stroke-width="0.864" stroke-linecap="butt" shape-rendering="crispEdges"/><line x1="89.54" y1="651.42" x2="91.85" y2="651.43" stroke="#404040" stroke-width="1.000" stroke-linecap="butt" shape-rendering="crispEdges"/><line x1="91.85" y1="651.43" x2="93.00" y2="649.42" stroke="#404040" stroke-width="0.868" stroke-linecap="butt" shape-rendering="crispEdges"/>
<line x1="244.85" y1="466.30" x2="246.00" y2="468.31" stroke="#404040" stroke-width="0.868" stroke-linecap="butt" shape-rendering="crispEdges"/><line x1="246.00" y1="468.31" x2="248.31" y2="468.30" stroke="#404040" stroke-width="1.000" stroke-linecap="butt" shape-rendering="crispEdges"/><line x1="248.31" y1="468.30" x2="247.15" y2="470.30" stroke="#404040" stroke-width="0.864" stroke-linecap="butt" shape-rendering="crispEdges"/><line x1="247.15" y1="470.30" x2="248.31" y2="472.30" stroke="#404040" stroke-width="0.864" stroke-linecap="butt" shape-rendering="crispEdges"/><line x1="248.31" y1="472.30" x2="246.00" y2="472.29" stroke="#404040" stroke-width="1.000" stroke-linecap="butt" shape-rendering="crispEdges"/><line x1="246.00" y1="472.29" x2="244.85" y2="474.30" stroke="#404040" stroke-width="0.868" stroke-linecap="butt" shape-rendering="crispEdges"/><line x1="244.85" y1="474.30" x2="243.70" y2="472.29" stroke="#404040" stroke-width="0.868" stroke-linecap="butt" shape-rendering="crispEdges"/><line x1="243.70" y1="472.29" x2="241.39" y2="472.30" stroke="#404040" stroke-width="1.000" stroke-linecap="butt" shape-rendering="crispEdges"/><line x1="241.39" y1="472.30" x2="242.55" y2="470.30" stroke="#404040" stroke-width="0.864" stroke-linecap="butt" shape-rendering="crispEdges"/><line x1="242.55" y1="470.30" x2="241.39" y2="468.30" stroke="#404040" stroke-width="0.864" stroke-linecap="butt" shape-rendering="crispEdges"/><line x1="241.39" y1="468.30" x2="243.70" y2="468.31" stroke="#404040" stroke-width="1.000" stroke-linecap="butt" shape-rendering="crispEdges"/><line x1="243.70" y1="468.31" x2="244.85" y2="466.30" stroke="#404040" stroke-width="0.868" stroke-linecap="butt" shape-rendering="crispEdges"/>
<line x1="396.70" y1="445.66" x2="397.85" y2="447.67" stroke="#404040" stroke-width="0.868" stroke-linecap="butt" shape-rendering="crispEdges"/><line x1="397.85" y1="447.67" x2="400.16" y2="447.66" stroke="#404040" stroke-width="1.000" stroke-linecap="butt" shape-rendering="crispEdges"/><line x1="400.16" y1="447.66" x2="399.00" y2="449.66" stroke="#404040" stroke-width="0.864" stroke-linecap="butt" shape-rendering="crispEdges"/><line x1="399.00" y1="449.66" x2="400.16" y2="451.66" stroke="#404040" stroke-width="0.864" stroke-linecap="butt" shape-rendering="crispEdges"/><line x1="400.16" y1="451.66" x2="397.85" y2="451.65" stroke="#404040" stroke-width="1.000" stroke-linecap="butt" shape-rendering="crispEdges"/><line x1="397.85" y1="451.65" x2="396.70" y2="453.66" stroke="#404040" stroke-width="0.868" stroke-linecap="butt" shape-rendering="crispEdges"/><line x1="396.70" y1="453.66" x2="395.55" y2="451.65" stroke="#404040" stroke-width="0.868" stroke-linecap="butt" shape-rendering="crispEdges"/><line x1="395.55" y1="451.65" x2="393.24" y2="451.66" stroke="#404040" stroke-width="1.000" stroke-linecap="butt" shape-rendering="crispEdges"/><line x1="393.24" y1="451.66" x2="394.40" y2="449.66" stroke="#404040" stroke-width="0.864" stroke-linecap="butt" shape-rendering="crispEdges"/><line x1="394.40" y1="449.66" x2="393.24" y2="447.66" stroke="#404040" stroke-width="0.864" stroke-linecap="butt" shape-rendering="crispEdges"/><line x1="393.24" y1="447.66" x2="395.55" y2="447.67" stroke="#404040" stroke-width="1.000" stroke-linecap="butt" shape-rendering="crispEdges"/><line x1="395.55" y1="447.67" x2="396.70" y2="445.66" stroke="#404040" stroke-width="0.868" stroke-linecap="butt" shape-rendering="crispEdges"/>
<line x1="548.55" y1="450.22" x2="549.70" y2="452.23" stroke="#404040" stroke-width="0.868" stroke-linecap="butt" shape-rendering="crispEdges"/><line x1="549.70" y1="452.23" x2="552.01" y2="452.22" stroke="#404040" stroke-width="1.000" stroke-linecap="butt" shape-rendering="crispEdges"/><line x1="552.01" y1="452.22" x2="550.85" y2="454.22" stroke="#404040" stroke-width="0.864" stroke-linecap="butt" shape-rendering="crispEdges"/><line x1="550.85" y1="454.22" x2="552.01" y2="456.22" stroke="#404040" stroke-width="0.864" stroke-linecap="butt" shape-rendering="crispEdges"/><line x1="552.01" y1="456.22" x2="549.70" y2="456.21" stroke="#404040" stroke-width="1.000" stroke-linecap="butt" shape-rendering="crispEdges"/><line x1="549.70" y1="456.21" x2="548.55" y2="458.22" stroke="#404040" stroke-width="0.868" stroke-linecap="butt" shape-rendering="crispEdges"/><line x1="548.55" y1="458.22" x2="547.40" y2="456.21" stroke="#404040" stroke-width="0.868" stroke-linecap="butt" shape-rendering="crispEdges"/><line x1="547.40" y1="456.21" x2="545.09" y2="456.22" stroke="#404040" stroke-width="1.000" stroke-linecap="butt" shape-rendering="crispEdges"/><line x1="545.09" y1="456.22" x2="546.25" y2="454.22" stroke="#404040" stroke-width="0.864" stroke-linecap="butt" shape-rendering="crispEdges"/><line x1="546.25" y1="454.22" x2="545.09" y2="452.22" stroke="#404040" stroke-width="0.864" stroke-linecap="butt" shape-rendering="crispEdges"/><line x1="545.09" y1="452.22" x2="547.40" y2="452.23" stroke="#404040" stroke-width="1.000" stroke-linecap="butt" shape-rendering="crispEdges"/><line x1="547.40" y1="452.23" x2="548.55" y2="450.22" stroke="#404040" stroke-width="0.868" stroke-linecap="butt" shape-rendering="crispEdges"/>
<line x1="700.40" y1="357.82" x2="701.55" y2="359.83" stroke="#404040" stroke-width="0.868" stroke-linecap="butt" shape-rendering="crispEdges"/><line x1="701.55" y1="359.83" x2="703.86" y2="359.82" stroke="#404040" stroke-width="1.000" stroke-linecap="butt" shape-rendering="crispEdges"/><line x1="703.86" y1="359.82" x2="702.70" y2="361.82" stroke="#404040" stroke-width="0.864" stroke-linecap="butt" shape-rendering="crispEdges"/><line x1="702.70" y1="361.82" x2="703.86" y2="363.82" stroke="#404040" stroke-width="0.864" stroke-linecap="butt" shape-rendering="crispEdges"/><line x1="703.86" y1="363.82" x2="701.55" y2="363.81" stroke="#404040" stroke-width="1.000" stroke-linecap="butt" shape-rendering="crispEdges"/><line x1="701.55" y1="363.81" x2="700.40" y2="365.82" stroke="#404040" stroke-width="0.868" stroke-linecap="butt" shape-rendering="crispEdges"/><line x1="700.40" y1="365.82" x2="699.25" y2="363.81" stroke="#404040" stroke-width="0.868" stroke-linecap="butt" shape-rendering="crispEdges"/><line x1="699.25" y1="363.81" x2="696.94" y2="363.82" stroke="#404040" stroke-width="1.000" stroke-linecap="butt" shape-rendering="crispEdges"/><line x1="696.94" y1="363.82" x2="698.10" y2="361.82" stroke="#404040" stroke-width="0.864" stroke-linecap="butt" shape-rendering="crispEdges"/><line x1="698.10" y1="361.82" x2="696.94" y2="359.82" stroke="#404040" stroke-width="0.864" stroke-linecap="butt" shape-rendering="crispEdges"/><line x1="696.94" y1="359.82" x2="699.25" y2="359.83" stroke="#404040" stroke-width="1.000" stroke-linecap="butt" shape-rendering="crispEdges"/><line x1="699.25" y1="359.83" x2="700.40" y2="357.82" stroke="#404040" stroke-width="0.868" stroke-linecap="butt" shape-rendering="crispEdges"/>
<line x1="852.25" y1="210.94" x2="853.40" y2="212.95" stroke="#404040" stroke-width="0.868" stroke-linecap="butt" shape-rendering="crispEdges"/><line x1="853.40" y1="212.95" x2="855.71" y2="212.94" stroke="#404040" stroke-width="1.000" stroke-linecap="butt" shape-rendering="crispEdges"/><line x1="855.71" y1="212.94" x2="854.55" y2="214.94" stroke="#404040" stroke-width="0.864" stroke-linecap="butt" shape-rendering="crispEdges"/><line x1="854.55" y1="214.94" x2="855.71" y2="216.94" stroke="#404040" stroke-width="0.864" stroke-linecap="butt" shape-rendering="crispEdges"/><line x1="855.71" y1="216.94" x2="853.40" y2="216.93" stroke="#404040" stroke-width="1.000" stroke-linecap="butt" shape-rendering="crispEdges"/><line x1="853.40" y1="216.93" x2="852.25" y2="218.94" stroke="#404040" stroke-width="0.868" stroke-linecap="butt" shape-rendering="crispEdges"/><line x1="852.25" y1="218.94" x2="851.10" y2="216.93" stroke="#404040" stroke-width="0.868" stroke-linecap="butt" shape-rendering="crispEdges"/><line x1="851.10" y1="216.93" x2="848.79" y2="216.94" stroke="#404040" stroke-width="1.000" stroke-linecap="butt" shape-rendering="crispEdges"/><line x1="848.79" y1="216.94" x2="849.95" y2="214.94" stroke="#404040" stroke-width="0.864" stroke-linecap="butt" shape-rendering="crispEdges"/><line x1="849.95" y1="214.94" x2="848.79" y2="212.94" stroke="#404040" stroke-width="0.864" stroke-linecap="butt" shape-rendering="crispEdges"/><line x1="848.79" y1="212.94" x2="851.10" y2="212.95" stroke="#404040" stroke-width="1.000" stroke-linecap="butt" shape-rendering="crispEdges"/><line x1="851.10" y1="212.95" x2="852.25" y2="210.94" stroke="#404040" stroke-width="0.868" stroke-linecap="butt" shape-rendering="crispEdges"/>
<line x1="1004.10" y1="178.30" x2="1005.25" y2="180.31" stroke="#404040" stroke-width="0.868" stroke-linecap="butt" shape-rendering="crispEdges"/><line x1="1005.25" y1="180.31" x2="1007.56" y2="180.30" stroke="#404040" stroke-width="1.000" stroke-linecap="butt" shape-rendering="crispEdges"/><line x1="1007.56" y1="180.30" x2="1006.40" y2="182.30" stroke="#404040" stroke-width="0.864" stroke-linecap="butt" shape-rendering="crispEdges"/><line x1="1006.40" y1="182.30" x2="1007.56" y2="184.30" stroke="#404040" stroke-width="0.864" stroke-linecap="butt" shape-rendering="crispEdges"/><line x1="1007.56" y1="184.30" x2="1005.25" y2="184.29" stroke="#404040" stroke-width="1.000" stroke-linecap="butt" shape-rendering="crispEdges"/><line x1="1005.25" y1="184.29" x2="1004.10" y2="186.30" stroke="#404040" stroke-width="0.868" stroke-linecap="butt" shape-rendering="crispEdges"/><line x1="1004.10" y1="186.30" x2="1002.95" y2="184.29" stroke="#404040" stroke-width="0.868" stroke-linecap="butt" shape-rendering="crispEdges"/><line x1="1002.95" y1="184.29" x2="1000.64" y2="184.30" stroke="#404040" stroke-width="1.000" stroke-linecap="butt" shape-rendering="crispEdges"/><line x1="1000.64" y1="184.30" x2="1001.80" y2="182.30" stroke="#404040" stroke-width="0.864" stroke-linecap="butt" shape-rendering="crispEdges"/><line x1="1001.80" y1="182.30" x2="1000.64" y2="180.30" stroke="#404040" stroke-width="0.864" stroke-linecap="butt" shape-rendering="crispEdges"/><line x1="1000.64" y1="180.30" x2="1002.95" y2="180.31" stroke="#404040" stroke-width="1.000" stroke-linecap="butt" shape-rendering="crispEdges"/><line x1="1002.95" y1="180.31" x2="1004.10" y2="178.30" stroke="#404040" stroke-width="0.868" stroke-linecap="butt" shape-rendering="crispEdges"/>
<line x1="93.00" y1="590.30" x2="244.85" y2="485.66" stroke="#0000ff" stroke-width="0.823" stroke-linecap="square" shape-rendering="crispEdges"/>
<line x1="244.85" y1="485.66" x2="396.70" y2="485.66" stroke="#0000ff" stroke-width="1.000" stroke-linecap="square" shape-rendering="crispEdges"/>
<line x1="396.70" y1="485.66" x2="548.55" y2="450.14" stroke="#0000ff" stroke-width="0.974" stroke-linecap="square" shape-rendering="crispEdges"/>
<line x1="548.55" y1="450.14" x2="700.40" y2="359.90" stroke="#0000ff" stroke-width="0.860" stroke-linecap="square" shape-rendering="crispEdges"/>
<line x1="700.40" y1="359.90" x2="852.25" y2="191.18" stroke="#0000ff" stroke-width="0.743" stroke-linecap="square" shape-rendering="crispEdges"/>
<line x1="852.25" y1="191.18" x2="1004.10" y2="254.30" stroke="#0000ff" stroke-width="0.923" stroke-linecap="square" shape-rendering="crispEdges"/>
<line x1="89.30" y1="586.70" x2="96.70" y2="586.70" stroke="#0000ff" stroke-width="1.000" stroke-linecap="square" shape-rendering="crispEdges"/><line x1="96.70" y1="586.70" x2="96.70" y2="593.90" stroke="#0000ff" stroke-width="1.000" stroke-linecap="square" shape-rendering="crispEdges"/><line x1="96.70" y1="593.90" x2="89.30" y2="593.90" stroke="#0000ff" stroke-width="1.000" stroke-linecap="square" shape-rendering="crispEdges"/><line x1="89.30" y1="593.90" x2="89.30" y2="586.70" stroke="#0000ff" stroke-width="1.000" stroke-linecap="square" shape-rendering="crispEdges"/>
<line x1="241.15" y1="482.06" x2="248.55" y2="482.06" stroke="#0000ff" stroke-width="1.000" stroke-linecap="square" shape-rendering="crispEdges"/><line x1="248.55" y1="482.06" x2="248.55" y2="489.26" stroke="#0000ff" stroke-width="1.000" stroke-linecap="square" shape-rendering="crispEdges"/><line x1="248.55" y1="489.26" x2="241.15" y2="489.26" stroke="#0000ff" stroke-width="1.000" stroke-linecap="square" shape-rendering="crispEdges"/><line x1="241.15" y1="489.26" x2="241.15" y2="482.06" stroke="#0000ff" stroke-width="1.000" stroke-linecap="square" shape-rendering="crispEdges"/>
<line x1="393.00" y1="482.06" x2="400.40" y2="482.06" stroke="#0000ff" stroke-width="1.000" stroke-linecap="square" shape-rendering="crispEdges"/><line x1="400.40" y1="482.06" x2="400.40" y2="489.26" stroke="#0000ff" stroke-width="1.000" stroke-linecap="square" shape-rendering="crispEdges"/><line x1="400.40" y1="489.26" x2="393.00" y2="489.26" stroke="#0000ff" stroke-width="1.000" stroke-linecap="square" shape-rendering="crispEdges"/><line x1="393.00" y1="489.26" x2="393.00" y2="482.06" stroke="#0000ff" stroke-width="1.000" stroke-linecap="square" shape-rendering="crispEdges"/>
<line x1="544.85" y1="446.54" x2="552.25" y2="446.54" stroke="#0000ff" stroke-width="1.000" stroke-linecap="square" shape-rendering="crispEdges"/><line x1="552.25" y1="446.54" x2="552.25" y2="453.74" stroke="#0000ff" stroke-width="1.000" stroke-linecap="square" shape-rendering="crispEdges"/><line x1="552.25" y1="453.74" x2="544.85" y2="453.74" stroke="#0000ff" stroke-width="1.000" stroke-linecap="square" shape-rendering="crispEdges"/><line x1="544.85" y1="453.74" x2="544.85" y2="446.54" stroke="#0000ff" stroke-width="1.000" stroke-linecap="square" shape-rendering="crispEdges"/>
<line x1="696.70" y1="356.30" x2="704.10" y2="356.30" stroke="#0000ff" stroke-width="1.000" stroke-linecap="square" shape-rendering="crispEdges"/><line x1="704.10" y1="356.30" x2="704.10" y2="363.50" stroke="#0000ff" stroke-width="1.000" stroke-linecap="square" shape-rendering="crispEdges"/><line x1="704.10" y1="363.50" x2="696.70" y2="363.50" stroke="#0000ff" stroke-width="1.000" stroke-linecap="square" shape-rendering="crispEdges"/><line x1="696.70" y1="363.50" x2="696.70" y2="356.30" stroke="#0000ff" stroke-width="1.000" stroke-linecap="square" shape-rendering="crispEdges"/>
<line x1="848.55" y1="187.58" x2="855.95" y2="187.58" stroke="#0000ff" stroke-width="1.000" stroke-linecap="square" shape-rendering="crispEdges"/><line x1="855.95" y1="187.58" x2="855.95" y2="194.78" stroke="#0000ff" stroke-width="1.000" stroke-linecap="square" shape-rendering="crispEdges"/><line x1="855.95" y1="194.78" x2="848.55" y2="194.78" stroke="#0000ff" stroke-width="1.000" stroke-linecap="square" shape-rendering="crispEdges"/><line x1="848.55" y1="194.78" x2="848.55" y2="187.58" stroke="#0000ff" stroke-width="1.000" stroke-linecap="square" shape-rendering="crispEdges"/>
<line x1="1000.40" y1="250.70" x2="1007.80" y2="250.70" stroke="#0000ff" stroke-width="1.000" stroke-linecap="square" shape-rendering="crispEdges"/><line x1="1007.80" y1="250.70" x2="1007.80" y2="257.90" stroke="#0000ff" stroke-width="1.000" stroke-linecap="square" shape-rendering="crispEdges"/><line x1="1007.80" y1="257.90" x2="1000.40" y2="257.90" stroke="#0000ff" stroke-width="1.000" stroke-linecap="square" shape-rendering="crispEdges"/><line x1="1000.40" y1="257.90" x2="1000.40" y2="250.70" stroke="#0000ff" stroke-width="1.000" stroke-linecap="square" shape-rendering="crispEdges"/>
</g>
<rect x="839.40" y="382.40" width="139.00" height="295.90" fill="#fff" stroke="#000" stroke-opacity="0.8" stroke-width="1"/>
<line x1="847" y1="402.66" x2="883.4" y2="402.66" stroke="#0000ff" stroke-width="1"/>
<g filter="url(#b)"><line x1="865.50" y1="397.96" x2="868.70" y2="402.66" stroke="#0000ff" stroke-width="0.827" stroke-linecap="square" shape-rendering="crispEdges"/><line x1="868.70" y1="402.66" x2="865.50" y2="407.36" stroke="#0000ff" stroke-width="0.827" stroke-linecap="square" shape-rendering="crispEdges"/><line x1="865.50" y1="407.36" x2="862.30" y2="402.66" stroke="#0000ff" stroke-width="0.827" stroke-linecap="square" shape-rendering="crispEdges"/><line x1="862.30" y1="402.66" x2="865.50" y2="397.96" stroke="#0000ff" stroke-width="0.827" stroke-linecap="square" shape-rendering="crispEdges"/></g>
<text class="lg" transform="translate(887.6,413.36) scale(1,1.07)">PD0</text>
<line x1="847" y1="438.50" x2="883.4" y2="438.50" stroke="#008000" stroke-width="1"/>
<g filter="url(#b)"><line x1="865.50" y1="433.50" x2="870.10" y2="441.00" stroke="#008000" stroke-width="0.852" stroke-linecap="butt" shape-rendering="crispEdges"/><line x1="870.10" y1="441.00" x2="860.90" y2="441.00" stroke="#008000" stroke-width="1.000" stroke-linecap="butt" shape-rendering="crispEdges"/><line x1="860.90" y1="441.00" x2="865.50" y2="433.50" stroke="#008000" stroke-width="0.852" stroke-linecap="butt" shape-rendering="crispEdges"/></g>
<text class="lg" transform="translate(887.6,449.20) scale(1,1.07)">PD25</text>
<line x1="847" y1="475.40" x2="883.4" y2="475.40" stroke="#ff0000" stroke-width="1"/>
<g filter="url(#b)"><line x1="865.50" y1="480.60" x2="870.10" y2="472.40" stroke="#ff0000" stroke-width="0.872" stroke-linecap="butt" shape-rendering="crispEdges"/><line x1="870.10" y1="472.40" x2="860.90" y2="472.40" stroke="#ff0000" stroke-width="1.000" stroke-linecap="butt" shape-rendering="crispEdges"/><line x1="860.90" y1="472.40" x2="865.50" y2="480.60" stroke="#ff0000" stroke-width="0.872" stroke-linecap="butt" shape-rendering="crispEdges"/></g>
<text class="lg" transform="translate(887.6,486.10) scale(1,1.07)">PD50</text>
<line x1="847" y1="512.00" x2="883.4" y2="512.00" stroke="#00bfbf" stroke-width="1"/>
<g filter="url(#b)"><line x1="870.20" y1="512.00" x2="862.60" y2="507.40" stroke="#00bfbf" stroke-width="0.856" stroke-linecap="butt" shape-rendering="crispEdges"/><line x1="862.60" y1="507.40" x2="862.60" y2="516.60" stroke="#00bfbf" stroke-width="1.000" stroke-linecap="butt" shape-rendering="crispEdges"/><line x1="862.60" y1="516.60" x2="870.20" y2="512.00" stroke="#00bfbf" stroke-width="0.856" stroke-linecap="butt" shape-rendering="crispEdges"/></g>
<text class="lg" transform="translate(887.6,522.70) scale(1,1.07)">PD75</text>
<line x1="847" y1="547.90" x2="883.4" y2="547.90" stroke="#bf00bf" stroke-width="1"/>
<g filter="url(#b)"><line x1="860.80" y1="547.90" x2="868.40" y2="543.20" stroke="#bf00bf" stroke-width="0.851" stroke-linecap="butt" shape-rendering="crispEdges"/><line x1="868.40" y1="543.20" x2="868.40" y2="552.60" stroke="#bf00bf" stroke-width="1.000" stroke-linecap="butt" shape-rendering="crispEdges"/><line x1="868.40" y1="552.60" x2="860.80" y2="547.90" stroke="#bf00bf" stroke-width="0.851" stroke-linecap="butt" shape-rendering="crispEdges"/></g>
<text class="lg" transform="translate(887.6,558.60) scale(1,1.07)">PD100</text>
<line x1="847" y1="584.50" x2="883.4" y2="584.50" stroke="#bfbf00" stroke-width="1"/>
<g filter="url(#b)"><line x1="865.50" y1="580.40" x2="866.44" y2="583.21" stroke="#bfbf00" stroke-width="0.948" stroke-linecap="butt" shape-rendering="crispEdges"/><line x1="866.44" y1="583.21" x2="869.40" y2="583.23" stroke="#bfbf00" stroke-width="1.000" stroke-linecap="butt" shape-rendering="crispEdges"/><line x1="869.40" y1="583.23" x2="867.02" y2="584.99" stroke="#bfbf00" stroke-width="0.804" stroke-linecap="butt" shape-rendering="crispEdges"/><line x1="867.02" y1="584.99" x2="867.91" y2="587.82" stroke="#bfbf00" stroke-width="0.954" stroke-linecap="butt" shape-rendering="crispEdges"/><line x1="867.91" y1="587.82" x2="865.50" y2="586.10" stroke="#bfbf00" stroke-width="0.814" stroke-linecap="butt" shape-rendering="crispEdges"/><line x1="865.50" y1="586.10" x2="863.09" y2="587.82" stroke="#bfbf00" stroke-width="0.814" stroke-linecap="butt" shape-rendering="crispEdges"/><line x1="863.09" y1="587.82" x2="863.98" y2="584.99" stroke="#bfbf00" stroke-width="0.954" stroke-linecap="butt" shape-rendering="crispEdges"/><line x1="863.98" y1="584.99" x2="861.60" y2="583.23" stroke="#bfbf00" stroke-width="0.804" stroke-linecap="butt" shape-rendering="crispEdges"/><line x1="861.60" y1="583.23" x2="864.56" y2="583.21" stroke="#bfbf00" stroke-width="1.000" stroke-linecap="butt" shape-rendering="crispEdges"/><line x1="864.56" y1="583.21" x2="865.50" y2="580.40" stroke="#bfbf00" stroke-width="0.948" stroke-linecap="butt" shape-rendering="crispEdges"/></g>
<text class="lg" transform="translate(887.6,595.20) scale(1,1.07)">PD125</text>
<line x1="847" y1="621.40" x2="883.4" y2="621.40" stroke="#404040" stroke-width="1"/>
<g filter="url(#b)"><line x1="865.50" y1="617.40" x2="866.65" y2="619.41" stroke="#404040" stroke-width="0.868" stroke-linecap="butt" shape-rendering="crispEdges"/><line x1="866.65" y1="619.41" x2="868.96" y2="619.40" stroke="#404040" stroke-width="1.000" stroke-linecap="butt" shape-rendering="crispEdges"/><line x1="868.96" y1="619.40" x2="867.80" y2="621.40" stroke="#404040" stroke-width="0.864" stroke-linecap="butt" shape-rendering="crispEdges"/><line x1="867.80" y1="621.40" x2="868.96" y2="623.40" stroke="#404040" stroke-width="0.864" stroke-linecap="butt" shape-rendering="crispEdges"/><line x1="868.96" y1="623.40" x2="866.65" y2="623.39" stroke="#404040" stroke-width="1.000" stroke-linecap="butt" shape-rendering="crispEdges"/><line x1="866.65" y1="623.39" x2="865.50" y2="625.40" stroke="#404040" stroke-width="0.868" stroke-linecap="butt" shape-rendering="crispEdges"/><line x1="865.50" y1="625.40" x2="864.35" y2="623.39" stroke="#404040" stroke-width="0.868" stroke-linecap="butt" shape-rendering="crispEdges"/><line x1="864.35" y1="623.39" x2="862.04" y2="623.40" stroke="#404040" stroke-width="1.000" stroke-linecap="butt" shape-rendering="crispEdges"/><line x1="862.04" y1="623.40" x2="863.20" y2="621.40" stroke="#404040" stroke-width="0.864" stroke-linecap="butt" shape-rendering="crispEdges"/><line x1="863.20" y1="621.40" x2="862.04" y2="619.40" stroke="#404040" stroke-width="0.864" stroke-linecap="butt" shape-rendering="crispEdges"/><line x1="862.04" y1="619.40" x2="864.35" y2="619.41" stroke="#404040" stroke-width="1.000" stroke-linecap="butt" shape-rendering="crispEdges"/><line x1="864.35" y1="619.41" x2="865.50" y2="617.40" stroke="#404040" stroke-width="0.868" stroke-linecap="butt" shape-rendering="crispEdges"/></g>
<text class="lg" transform="translate(887.6,632.10) scale(1,1.07)">PD150</text>
<line x1="847" y1="657.40" x2="883.4" y2="657.40" stroke="#0000ff" stroke-width="1"/>
<g filter="url(#b)"><line x1="861.80" y1="653.80" x2="869.20" y2="653.80" stroke="#0000ff" stroke-width="1.000" stroke-linecap="square" shape-rendering="crispEdges"/><line x1="869.20" y1="653.80" x2="869.20" y2="661.00" stroke="#0000ff" stroke-width="1.000" stroke-linecap="square" shape-rendering="crispEdges"/><line x1="869.20" y1="661.00" x2="861.80" y2="661.00" stroke="#0000ff" stroke-width="1.000" stroke-linecap="square" shape-rendering="crispEdges"/><line x1="861.80" y1="661.00" x2="861.80" y2="653.80" stroke="#0000ff" stroke-width="1.000" stroke-linecap="square" shape-rendering="crispEdges"/></g>
<text class="lg" transform="translate(887.6,668.10) scale(1,1.07)">PD175</text>
</svg></body></html>
